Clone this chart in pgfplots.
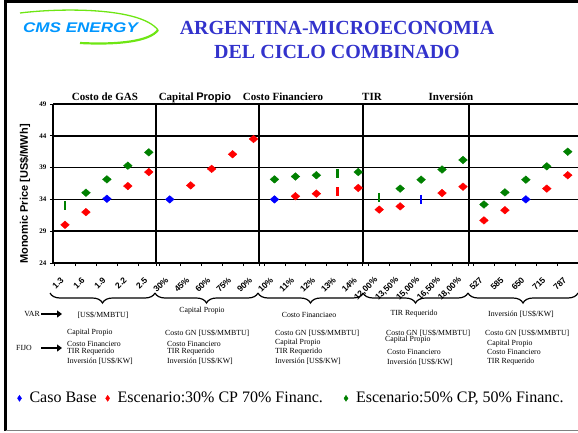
\documentclass[border=0pt]{standalone}
\usepackage{fontspec}
\setmainfont{Liberation Serif}
\setsansfont{Liberation Sans}
\usepackage{pgfplots}
\pgfplotsset{compat=1.18}
\usetikzlibrary{decorations.pathreplacing,arrows.meta}
\definecolor{mred}{RGB}{255,0,0}
\definecolor{mgreen}{RGB}{0,128,0}
\definecolor{mblue}{RGB}{0,0,255}
\definecolor{titleblue}{RGB}{51,51,204}
\definecolor{logoblue}{RGB}{0,150,255}
\definecolor{logogreen}{RGB}{110,230,20}
\begin{document}
\begin{tikzpicture}[x=1pt,y=1pt]
\path[use as bounding box] (0,0) rectangle (578,432);
% frame
\draw[line width=3pt] (5.5,1) -- (5.5,430.5);
\draw[line width=3pt] (4,430.5) -- (580,430.5);
\draw[gray, line width=1pt] (5.5,1.5) -- (580,1.5);
% logo
\draw[logogreen, line width=1.3pt] (20,419) .. controls (60,424) and (140,425) .. (158,402);
\draw[logogreen, line width=2.2pt] (80,389) .. controls (120,387) and (150,391) .. (158,402);
\node[font=\sffamily\bfseries\itshape\fontsize{14}{14}\selectfont, text=logoblue, xscale=1.22] at (80.5,404) {CMS ENERGY};
% title
\node[anchor=base, text=titleblue] at (337,397) {\rmfamily\bfseries\fontsize{20}{24}\selectfont ARGENTINA-MICROECONOMIA};
\node[anchor=base, text=titleblue] at (337,373) {\rmfamily\bfseries\fontsize{20}{24}\selectfont DEL CICLO COMBINADO};
\begin{axis}[
  at={(53pt,169pt)}, anchor=south west, width=525pt, height=159pt, scale only axis,
  xmin=-0.573, xmax=24.49, ymin=24, ymax=49, clip=false,
  axis line style={draw=none},
  ytick={24,29,34,39,44,49}, yticklabels={24,29,34,39,44,49},
  minor ytick={24,29,34,39,44,49},
  yticklabel style={font=\rmfamily\fontsize{7}{8}\selectfont\bfseries, xshift=-3pt},
  ymajorgrids, grid style={black, line width=1.5pt},
  tick align=outside, tick pos=left, major tick length=0pt, minor tick length=3pt,
  tick style={black, line width=0.8pt},
  xtick={0,1,2,3,4,5,6,7,8,9,10,11,12,13,14,15,16,17,18,19,20,21,22,23,24},
  xticklabels={1.3,1.6,1.9,2.2,2.5,30\%,45\%,60\%,75\%,90\%,10\%,11\%,12\%,13\%,14\%,{12,00\%},{13,50\%},{15,00\%},{16,50\%},{18,00\%},527,585,650,715,787},
  minor xtick={-0.5,0.5,1.5,2.5,3.5,4.344,4.5,5.5,6.5,7.5,8.5,9.26,9.5,10.5,11.5,12.5,13.5,14.22,14.5,15.5,16.5,17.5,18.5,19.28,19.5,20.5,21.5,22.5,23.5},
  xticklabel style={font=\sffamily\bfseries\fontsize{8.5}{9}\selectfont, xshift=-2pt, yshift=-15pt, rotate=45, anchor=east, inner sep=1pt},
  legend style={draw=none, fill=none, inner sep=0pt, at={(axis description cs:-0.068,-0.851)}, anchor=west,
     font=\rmfamily\fontsize{16}{18}\selectfont, legend columns=-1,
     /tikz/every odd column/.append style={column sep=6pt},
     /tikz/every even column/.append style={column sep=4pt}},
]
% Escenario 30% CP 70% Financ.
\addplot[forget plot, only marks, mark=diamond*, color=mred, mark size=4pt, mark options={xscale=1.45,yscale=0.95}] coordinates {
 (0,30.0) (1,32.0) (3,36.1) (4,38.3)
 (6,36.2) (7,38.8) (8,41.1) (9,43.5)
 (11,34.5) (12,34.9) (14,35.8)
 (15,32.4) (16,32.9) (18,35.0) (19,36.0)
 (20,30.7) (21,32.3) (23,35.7) (24,37.8)};
\addplot[forget plot, only marks, mark=|, color=mred, mark size=4.5pt, mark options={line width=2.5pt}] coordinates {(13,35.2)};
% Escenario 50% CP, 50% Financ.
\addplot[forget plot, only marks, mark=diamond*, color=mgreen, mark size=4pt, mark options={xscale=1.45,yscale=0.95}] coordinates {
 (1,35.05) (2,37.15) (3,39.3) (4,41.4)
 (10,37.15) (11,37.6) (12,37.8) (14,38.3)
 (16,35.7) (17,37.1) (18,38.7) (19,40.2)
 (20,33.2) (21,35.1) (22,37.1) (23,39.2) (24,41.5)};
\addplot[forget plot, only marks, mark=|, color=mgreen, mark size=4.5pt, mark options={line width=2.5pt}] coordinates {(0,33.0) (13,38.0) (15,34.3)};
% Caso Base
\addplot[forget plot, only marks, mark=diamond*, color=mblue, mark size=4pt, mark options={xscale=1.45,yscale=0.95}] coordinates {
 (2,34.1) (5,34.0) (10,34.0) (22,34.0)};
\addplot[forget plot, only marks, mark=|, color=mblue, mark size=4.5pt, mark options={line width=2.5pt}] coordinates {(17,34.0)};
% separators
\draw[line width=1.5pt] (axis cs:-0.573,24) -- (axis cs:-0.573,49);
\draw[line width=1.5pt] (axis cs:4.344,24) -- (axis cs:4.344,49);
\draw[line width=1.5pt] (axis cs:9.26,24) -- (axis cs:9.26,49);
\draw[line width=1.5pt] (axis cs:14.22,24) -- (axis cs:14.22,49);
\draw[line width=1.5pt] (axis cs:19.28,24) -- (axis cs:19.28,49);
\addlegendimage{only marks, mark=diamond*, color=mblue, mark size=3pt, mark options={xscale=0.9}}
\addlegendentry{\rmfamily\mdseries Caso Base\hspace{3pt}\null}
\addlegendimage{only marks, mark=diamond*, color=mred, mark size=3pt, mark options={xscale=0.9}}
\addlegendentry{\rmfamily\mdseries Escenario:30\% CP 70\% Financ.\hspace{15pt}\null}
\addlegendimage{only marks, mark=diamond*, color=mgreen, mark size=3pt, mark options={xscale=0.9}}
\addlegendentry{\rmfamily\mdseries Escenario:50\% CP, 50\% Financ.}
\end{axis}
% group titles
\node[anchor=base] at (105,331) {\rmfamily\bfseries\fontsize{11}{12}\selectfont Costo de GAS};
\node[anchor=base] at (195,331) {\rmfamily\bfseries\fontsize{11}{12}\selectfont Capital {\sffamily Propio}};
\node[anchor=base] at (283,331) {\rmfamily\bfseries\fontsize{11}{12}\selectfont Costo Financiero};
\node[anchor=base] at (372,331) {\rmfamily\bfseries\fontsize{11}{12}\selectfont TIR};
\node[anchor=base] at (451,331) {\rmfamily\bfseries\fontsize{11}{12}\selectfont Inversión};
% y label
\node[rotate=90] at (25,238) {\sffamily\bfseries\fontsize{11}{12}\selectfont Monomic Price [US\$/MWh]};
% braces
\begin{scope}[line width=1.2pt, decoration={brace, mirror, amplitude=10pt}]
\draw[decorate] (50,139) -- (155,139);
\draw[decorate] (155,139) -- (258,139);
\draw[decorate] (258,139) -- (363,139);
\draw[decorate] (363,139) -- (468,139);
\draw[decorate] (468,139) -- (578,139);
\end{scope}
% VAR / FIJO
\begin{scope}[every node/.style={font=\rmfamily\fontsize{7.8}{9}\selectfont, inner sep=0pt}]
\node at (32,118) {VAR};
\node at (24,84) {FIJO};
\draw[line width=2.5pt, -{Triangle[length=5pt,width=7pt]}] (41,118) -- (62,118);
\draw[line width=2.5pt, -{Triangle[length=5pt,width=7pt]}] (41,84) -- (62,84);
\node at (103,117) {[US\$/MMBTU]};
\node at (202,121) {Capital Propio};
\node at (309,117) {Costo Financiaeo};
\node at (414,118) {TIR Requerido};
\node at (521,118) {Inversión [US\$/KW]};
\end{scope}
\begin{scope}[every node/.style={font=\rmfamily\fontsize{7.8}{9}\selectfont, inner sep=0pt, anchor=west}]
\node at (67,99) {Capital Propio};
\node at (67,88) {Costo Financiero};
\node at (67,80.5) {TIR Requerido};
\node at (67,70.5) {Inversión [US\$/KW]};
\node at (165,99) {Costo GN [US\$/MMBTU]};
\node at (167,88) {Costo Financiero};
\node at (167,80.5) {TIR Requerido};
\node at (167,70.5) {Inversión [US\$/KW]};
\node at (275,99) {Costo GN [US\$/MMBTU]};
\node at (275,89) {Capital Propio};
\node at (275,80.5) {TIR Requerido};
\node at (275,70.5) {Inversión [US\$/KW]};
\node at (386,99) {Costo GN [US\$/MMBTU]};
\node at (385,92) {Capital Propio};
\node at (387,80) {Costo Financiero};
\node at (387,69.5) {Inversión [US\$/KW]};
\node at (485,99) {Costo GN [US\$/MMBTU]};
\node at (487,88) {Capital Propio};
\node at (487,80) {Costo Financiero};
\node at (487,70) {TIR Requerido};
\end{scope}
\end{tikzpicture}
\end{document}
